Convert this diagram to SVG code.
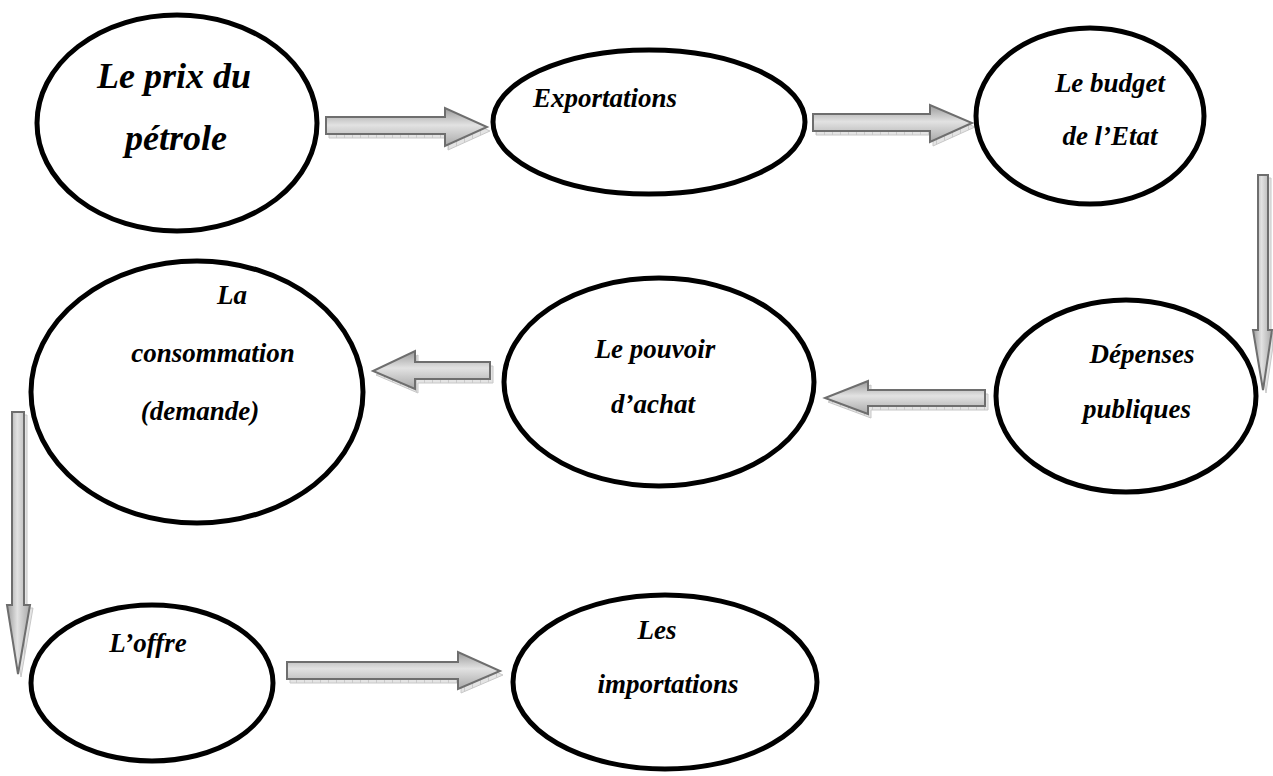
<svg xmlns="http://www.w3.org/2000/svg" width="1273" height="776" viewBox="0 0 1273 776">
<style>
.node ellipse{fill:#fff;stroke:#000;stroke-width:5}
.t{font-family:"Liberation Serif","Times New Roman",serif;font-weight:bold;font-style:italic;font-size:27px;fill:#000;text-anchor:middle}
.big{font-size:36px}
.arr{stroke:#6e6e6e;stroke-width:2;stroke-linejoin:miter}
.h{fill:url(#gh)}
.v{fill:url(#gv)}
.sh{fill:url(#hatch);stroke:#c8c8c8;stroke-width:1}
</style>
<defs>
<linearGradient id="gh" x1="0" y1="0" x2="0" y2="1">
<stop offset="0" stop-color="#9a9a9a"/><stop offset="0.45" stop-color="#e2e2e2"/><stop offset="1" stop-color="#a8a8a8"/>
</linearGradient>
<linearGradient id="gv" x1="0" y1="0" x2="1" y2="0">
<stop offset="0" stop-color="#9a9a9a"/><stop offset="0.45" stop-color="#e2e2e2"/><stop offset="1" stop-color="#a8a8a8"/>
</linearGradient>
<pattern id="hatch" width="8" height="8" patternUnits="userSpaceOnUse">
<rect width="8" height="8" fill="#e4e4e4"/><path d="M0 0V8" stroke="#b0b0b0" stroke-width="1"/>
</pattern>
</defs>
<g id="connectors">
<g id="a1">
<polygon class="sh" points="329,121 448,121 448,112 490,131 448,150 448,138 329,138"/>
<polygon class="arr h" points="326,117 445,117 445,108 487,127 445,146 445,134 326,134"/>
</g>
<g id="a2">
<polygon class="sh" points="816,118 933,118 933,109 975,127 933,146 933,135 816,135"/>
<polygon class="arr h" points="813,114 930,114 930,105 972,123 930,142 930,131 813,131"/>
</g>
<g id="a3">
<polygon class="sh" points="1261,178 1271,178 1271,333 1275,333 1266,393 1256,333 1261,333"/>
<polygon class="arr v" points="1258,175 1268,175 1268,330 1272,330 1263,390 1253,330 1258,330"/>
</g>
<g id="a4">
<polygon class="sh" points="493,366 418,366 418,355 376,375 418,393 418,383 493,383"/>
<polygon class="arr h" points="490,362 415,362 415,351 373,371 415,389 415,379 490,379"/>
</g>
<g id="a5">
<polygon class="sh" points="988,394 871,394 871,385 828,402 871,418 871,410 988,410"/>
<polygon class="arr h" points="985,390 868,390 868,381 825,398 868,414 868,406 985,406"/>
</g>
<g id="a6">
<polygon class="sh" points="15,415 27,415 27,608 33,608 21,677 10,608 15,608"/>
<polygon class="arr v" points="12,412 24,412 24,605 30,605 18,674 7,605 12,605"/>
</g>
<g id="a7">
<polygon class="sh" points="290,666 461,666 461,656 503,675 461,693 461,683 290,683"/>
<polygon class="arr h" points="287,662 458,662 458,652 500,671 458,689 458,679 287,679"/>
</g>
</g>
<g id="n1" class="node"><ellipse cx="177" cy="123" rx="140" ry="108"/>
<text class="t big" x="174" y="88">Le prix du</text><text class="t big" x="176" y="150">pétrole</text></g>
<g id="n2" class="node"><ellipse cx="649" cy="122" rx="156" ry="72"/>
<text class="t" x="605" y="107">Exportations</text></g>
<g id="n3" class="node"><ellipse cx="1090" cy="116" rx="114" ry="88"/>
<text class="t" x="1110" y="92">Le budget</text><text class="t" x="1110" y="145">de l’Etat</text></g>
<g id="n4" class="node"><ellipse cx="197" cy="392" rx="166" ry="131"/>
<text class="t" x="232" y="304">La</text><text class="t" x="213" y="362">consommation</text><text class="t" x="200" y="420">(demande)</text></g>
<g id="n5" class="node"><ellipse cx="659" cy="382" rx="155" ry="104"/>
<text class="t" x="655" y="358">Le pouvoir</text><text class="t" x="653" y="413">d’achat</text></g>
<g id="n6" class="node"><ellipse cx="1126" cy="396" rx="130" ry="96"/>
<text class="t" x="1142" y="363">Dépenses</text><text class="t" x="1137" y="418">publiques</text></g>
<g id="n7" class="node"><ellipse cx="152" cy="683" rx="121" ry="78"/>
<text class="t" x="148" y="652">L’offre</text></g>
<g id="n8" class="node"><ellipse cx="665" cy="682" rx="152" ry="87"/>
<text class="t" x="657" y="639">Les</text><text class="t" x="668" y="693">importations</text></g>
</svg>
